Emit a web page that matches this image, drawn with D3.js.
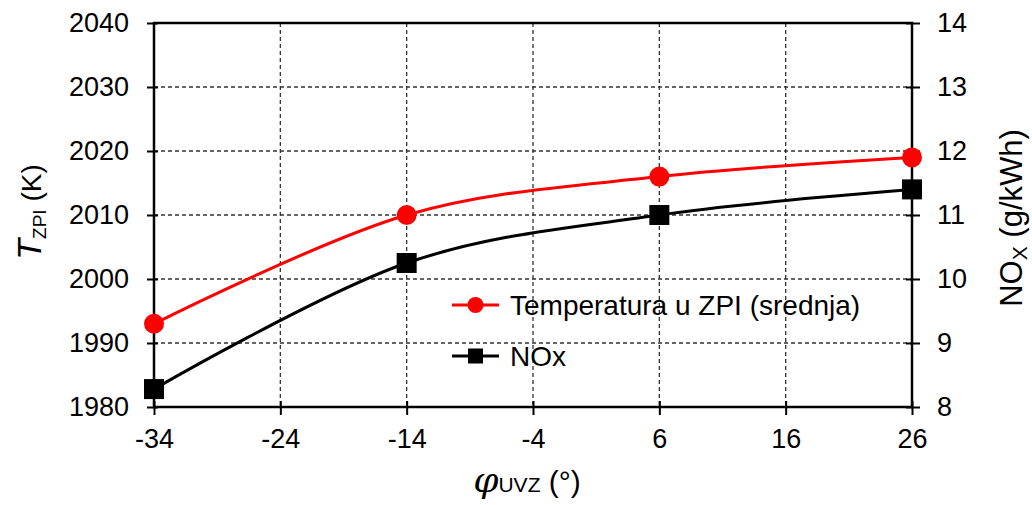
<!DOCTYPE html>
<html>
<head>
<meta charset="utf-8">
<script src="https://cdn.jsdelivr.net/npm/d3@7"></script>
<style>
html,body{margin:0;padding:0;background:#fff;}
text{font-family:"Liberation Sans",Arial,sans-serif;fill:#000;}
</style>
</head>
<body>
<svg id="chart" width="1032" height="505"></svg>
<script>
const phi = [-34, -14, 6, 26];
const temperature = [1993, 2010, 2016, 2019];
const nox = [8.28, 10.25, 11.0, 11.4];
const xTicks = [-34, -24, -14, -4, 6, 16, 26];
const yLeftTicks = [1980, 1990, 2000, 2010, 2020, 2030, 2040];
const yRightTicks = [8, 9, 10, 11, 12, 13, 14];
const legendLabels = ["Temperatura u ZPI (srednja)", "NOx"];

const svg = d3.select("#chart");
const L = 154, R = 912, T = 23, B = 407;
const x = d3.scaleLinear().domain([-34, 26]).range([L, R]);
const yL = d3.scaleLinear().domain([1980, 2040]).range([B, T]);
const yR = d3.scaleLinear().domain([8, 14]).range([B, T]);

// grid
const grid = svg.append("g").attr("stroke", "#333").attr("stroke-width", 1.3).attr("stroke-dasharray", "4,3");
grid.selectAll("line.v").data(xTicks.slice(1, -1)).join("line")
  .attr("x1", d => x(d)).attr("x2", d => x(d)).attr("y1", T).attr("y2", B);
grid.selectAll("line.h").data(yLeftTicks.slice(1, -1)).join("line")
  .attr("x1", L).attr("x2", R).attr("y1", d => yL(d)).attr("y2", d => yL(d));

// axes
const fs = 27;
const fmt = d => String(d);
const axL = svg.append("g").attr("transform", `translate(${L},0)`)
  .call(d3.axisLeft(yL).tickValues(yLeftTicks).tickSize(7).tickPadding(18).tickFormat(fmt));
const axR = svg.append("g").attr("transform", `translate(${R},0)`)
  .call(d3.axisRight(yR).tickValues(yRightTicks).tickSize(8).tickPadding(17).tickFormat(fmt));
const axB = svg.append("g").attr("transform", `translate(0,${B})`)
  .call(d3.axisBottom(x).tickValues(xTicks).tickSize(8).tickPadding(14).tickFormat(fmt));
[axL, axR, axB].forEach(a => {
  a.select(".domain").remove();
  a.selectAll(".tick line").attr("stroke", "#000").attr("stroke-width", 2);
  a.selectAll(".tick text").attr("font-size", fs).attr("font-family", "'Liberation Sans',Arial,sans-serif").attr("fill", "#000");
});
axL.selectAll(".tick").append("line").attr("x1", 0).attr("x2", 4).attr("stroke", "#000").attr("stroke-width", 2);
axB.selectAll(".tick").append("line").attr("y1", 0).attr("y2", -6).attr("stroke", "#000").attr("stroke-width", 2);
axR.selectAll(".tick").append("line").attr("x1", 0).attr("x2", -6).attr("stroke", "#000").attr("stroke-width", 2);

// frame
svg.append("rect").attr("x", L).attr("y", T).attr("width", R - L).attr("height", B - T)
  .attr("fill", "none").attr("stroke", "#000").attr("stroke-width", 2.5);

// lines
const lineT = d3.line().x((d, i) => x(phi[i])).y(d => yL(d)).curve(d3.curveCardinal.tension(0));
const lineN = d3.line().x((d, i) => x(phi[i])).y(d => yR(d)).curve(d3.curveCardinal.tension(0));
svg.append("path").attr("d", lineN(nox)).attr("fill", "none").attr("stroke", "#000").attr("stroke-width", 3);
svg.append("path").attr("d", lineT(temperature)).attr("fill", "none").attr("stroke", "#ff0000").attr("stroke-width", 3);
svg.selectAll("rect.sq").data(nox).join("rect").attr("class", "sq")
  .attr("x", (d, i) => x(phi[i]) - 10).attr("y", d => yR(d) - 10).attr("width", 20).attr("height", 20).attr("fill", "#000");
svg.selectAll("circle.c").data(temperature).join("circle").attr("class", "c")
  .attr("cx", (d, i) => x(phi[i])).attr("cy", d => yL(d)).attr("r", 10).attr("fill", "#ff0000");

// legend
const leg = svg.append("g");
const legY = [305, 356];
const legColors = ["#ff0000", "#000"];
legendLabels.forEach((lab, i) => {
  leg.append("line").attr("x1", 452).attr("x2", 499).attr("y1", legY[i]).attr("y2", legY[i])
    .attr("stroke", legColors[i]).attr("stroke-width", 3);
  if (i === 0) leg.append("circle").attr("cx", 475.5).attr("cy", legY[i]).attr("r", 8).attr("fill", legColors[i]);
  else leg.append("rect").attr("x", 468).attr("y", legY[i] - 7.5).attr("width", 15).attr("height", 15).attr("fill", legColors[i]);
  leg.append("text").attr("x", 510).attr("y", legY[i]).attr("dy", "0.35em").attr("font-size", 28).text(lab);
});

// axis titles
const tl = svg.append("text").attr("transform", "translate(41,212) rotate(-90)").attr("text-anchor", "middle").attr("font-size", 28);
tl.append("tspan").attr("font-style", "italic").attr("font-size", 34).text("T");
tl.append("tspan").attr("font-size", 19).attr("dy", 5).text("ZPI");
tl.append("tspan").attr("dy", -5).text(" (K)");

const tr = svg.append("text").attr("transform", "translate(1022,218) rotate(-90)").attr("text-anchor", "middle").attr("font-size", 31);
tr.append("tspan").text("NO");
tr.append("tspan").attr("font-size", 21).attr("dy", 5).text("X");
tr.append("tspan").attr("dy", -5).text(" (g/kWh)");

const tb = svg.append("text").attr("x", 527).attr("y", 492).attr("text-anchor", "middle").attr("font-size", 30);
tb.append("tspan").attr("font-style", "italic").attr("font-size", 36).attr("font-family", "'DejaVu Serif',serif").text("φ");
tb.append("tspan").attr("font-size", 21).text("UVZ");
tb.append("tspan").text(" (°)");
</script>
</body>
</html>
